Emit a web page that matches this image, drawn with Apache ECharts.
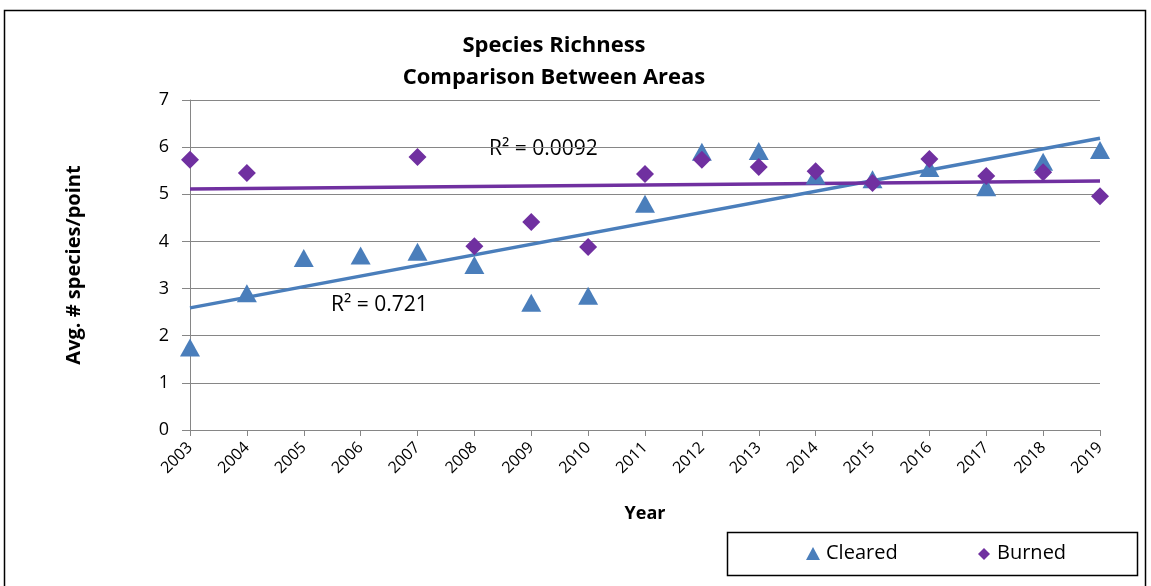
<!DOCTYPE html>
<html><head><meta charset="utf-8">
<script src="https://cdn.jsdelivr.net/npm/echarts@6/dist/echarts.min.js"></script>
<style>html,body{margin:0;padding:0;background:#fff}#c{width:1151px;height:586px}</style>
</head><body><div id="c"></div>
<script>
const years = ['2003','2004','2005','2006','2007','2008','2009','2010','2011','2012','2013','2014','2015','2016','2017','2018','2019'];
const cleared = [1.75,2.9,3.65,3.7,3.78,3.5,2.7,2.85,4.8,5.9,5.92,5.4,5.32,5.56,5.15,5.69,5.94];
const burned = [5.73,5.45,null,null,5.79,3.9,4.41,3.88,5.43,5.73,5.58,5.49,5.24,5.75,5.39,5.47,4.96];
const clearedTrend = [2.59,null,null,null,null,null,null,null,null,null,null,null,null,null,null,null,6.19];
const burnedTrend = [5.11,null,null,null,null,null,null,null,null,null,null,null,null,null,null,null,5.28];
const yTicks = [0,1,2,3,4,5,6,7];

const FONT = 'Open Sans';
const BLUE = '#4a7ebb';
const PURPLE = '#7030a0';
const chart = echarts.init(document.getElementById('c'));
chart.setOption({
  animation: false,
  backgroundColor: '#fff',
  title: {
    text: 'Species Richness\nComparison Between Areas',
    left: 554, top: 30, textAlign: 'center', padding: 0,
    textStyle: {fontFamily: FONT, fontWeight: 'bold', fontSize: 22, lineHeight: 32, color: '#000'}
  },
  legend: {show: false},
  grid: {left: 190, right: 51, top: 100, bottom: 156},
  xAxis: {
    type: 'category', data: years, boundaryGap: false,
    name: 'Year', nameLocation: 'middle', nameGap: 75,
    nameTextStyle: {fontFamily: FONT, fontWeight: 'bold', fontSize: 18, color: '#000'},
    axisLine: {lineStyle: {color: '#868686', width: 1}},
    axisTick: {show: true, length: 6, alignWithLabel: true, lineStyle: {color: '#868686'}},
    axisLabel: {rotate: 45, fontFamily: FONT, fontSize: 16, color: '#000', margin: 15},
    splitLine: {show: false}
  },
  yAxis: {
    type: 'value', min: 0, max: 7, interval: 1,
    name: 'Avg. # species/point', nameLocation: 'middle', nameGap: 106, nameRotate: 90,
    nameTextStyle: {fontFamily: FONT, fontWeight: 'bold', fontSize: 20, color: '#000'},
    axisLine: {show: true, lineStyle: {color: '#868686', width: 1}},
    axisTick: {show: true, length: 8, lineStyle: {color: '#868686'}},
    axisLabel: {fontFamily: FONT, fontSize: 18, color: '#000', margin: 21,
      formatter: v => yTicks.includes(v) ? String(v) : ''},
    splitLine: {show: true, lineStyle: {color: '#868686', width: 1}}
  },
  series: [
    {name: 'ClearedTrend', type: 'line', data: clearedTrend, connectNulls: true, showSymbol: false, symbol: 'none',
      lineStyle: {color: BLUE, width: 3.5}, z: 2},
    {name: 'BurnedTrend', type: 'line', data: burnedTrend, connectNulls: true, showSymbol: false, symbol: 'none',
      lineStyle: {color: PURPLE, width: 3.5}, z: 2},
    {name: 'Cleared', type: 'scatter', data: cleared, symbol: 'triangle', symbolSize: [20, 18],
      itemStyle: {color: BLUE, opacity: 1}, z: 3},
    {name: 'Burned', type: 'scatter', data: burned, symbol: 'diamond', symbolSize: [18, 18],
      itemStyle: {color: PURPLE, opacity: 1}, z: 4}
  ],
  graphic: [
    {type: 'rect', shape: {x: 4.5, y: 10.5, width: 1141, height: 600}, style: {fill: null, stroke: '#000', lineWidth: 1.5}, silent: true},
    {type: 'rect', shape: {x: 727.5, y: 532.5, width: 410, height: 43}, style: {fill: '#fff', stroke: '#000', lineWidth: 1.5}, silent: true},
    {type: 'polygon', shape: {points: [[813,547],[820,560],[806,560]]}, style: {fill: BLUE}},
    {type: 'text', left: 826, top: 543, style: {text: 'Cleared', fontFamily: FONT, fontSize: 20, fill: '#000'}},
    {type: 'polygon', shape: {points: [[984,548],[990,554],[984,560],[978,554]]}, style: {fill: PURPLE}},
    {type: 'text', left: 997, top: 543, style: {text: 'Burned', fontFamily: FONT, fontSize: 20, fill: '#000'}},
    {type: 'text', left: 489, top: 139, style: {text: 'R² = 0.0092', fontFamily: FONT, fontSize: 21, fill: '#000'}},
    {type: 'text', left: 331, top: 295, style: {text: 'R² = 0.721', fontFamily: FONT, fontSize: 21, fill: '#000'}}
  ]
});
</script></body></html>
